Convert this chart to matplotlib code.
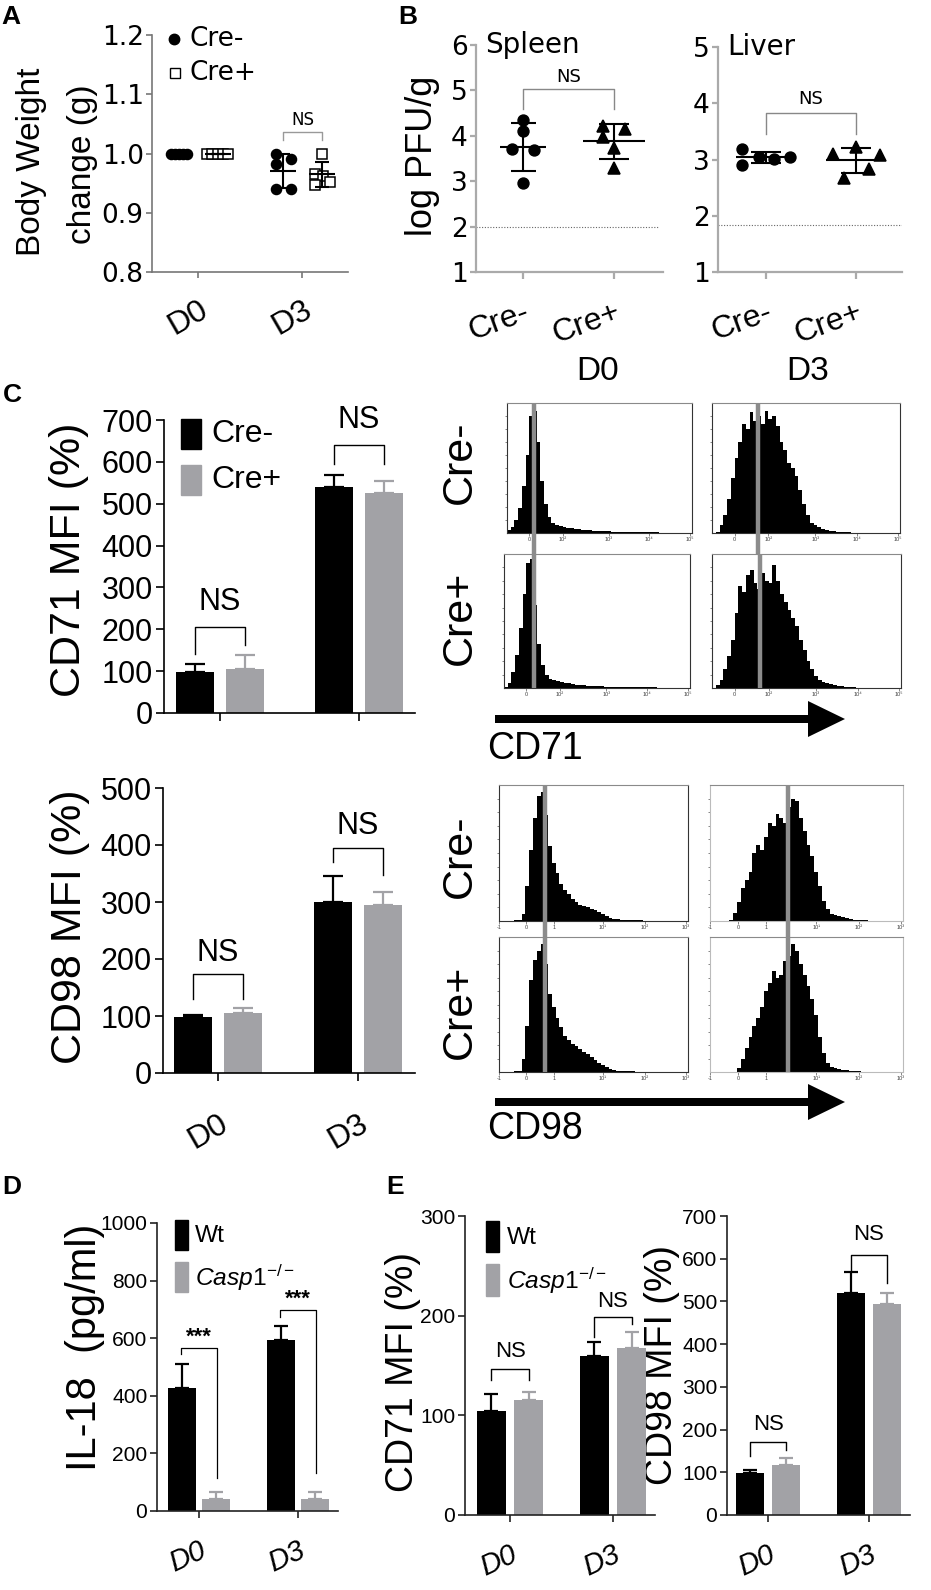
import numpy as np
import matplotlib.pyplot as plt
from matplotlib import font_manager
from matplotlib.patches import FancyArrow, Rectangle

W, H = 931, 1590

_names = {f.name for f in font_manager.fontManager.ttflist}
SANS = 'Liberation Sans'
WIDE = 'DejaVu Sans'
HAS_NARROW = 'Liberation Sans Narrow' in _names
NARROW = 'Liberation Sans Narrow' if HAS_NARROW else SANS
NK = 1.0 if HAS_NARROW else 0.84   # shrink narrow text if the narrow face is missing

plt.rcParams['font.family'] = [SANS, 'DejaVu Sans']
plt.rcParams['mathtext.fontset'] = 'custom'
plt.rcParams['mathtext.rm'] = NARROW
plt.rcParams['mathtext.it'] = NARROW + ':italic'

BLACK = '#000000'
GREY = '#a2a2a6'

# ---------------- data ----------------
# A: body weight change
a_days = ['D0', 'D3']
a_minus = [[1.0, 1.0, 1.0, 1.0, 1.0], [1.0, 0.991, 0.983, 0.94, 0.94]]
a_minus_jit = [[-0.08, -0.04, 0.0, 0.04, 0.08], [-0.07, 0.07, -0.07, -0.07, 0.07]]
a_plus = [[1.0, 1.0, 1.0, 1.0, 1.0], [1.0, 0.966, 0.962, 0.946, 0.952]]
a_plus_jit = [[-0.1, -0.05, 0.0, 0.05, 0.1], [0.0, -0.07, 0.01, -0.07, 0.08]]

# B: viral titres
b_groups = ['Cre-', 'Cre+']
spleen_minus = [4.35, 4.11, 3.72, 3.68, 2.96]
spleen_minus_jit = [0.0, 0.0, -0.12, 0.12, 0.0]
spleen_plus = [4.22, 4.16, 3.98, 3.74, 3.28]
spleen_plus_jit = [-0.12, 0.12, -0.12, 0.0, 0.0]
liver_minus = [3.18, 2.91, 3.04, 3.01, 3.04]
liver_minus_jit = [-0.27, -0.27, -0.08, 0.09, 0.27]
liver_plus = [3.10, 3.23, 3.08, 2.84, 2.68]
liver_plus_jit = [-0.26, 0.0, 0.27, 0.14, -0.13]
spleen_limit = 2.0
liver_limit = 1.84

# C: MFI bars
c_days = ['D0', 'D3']
cd71_minus = [98, 540]
cd71_minus_err = [20, 28]
cd71_plus = [104, 525]
cd71_plus_err = [34, 29]
cd98_minus = [99, 300]
cd98_minus_err = [3, 46]
cd98_plus = [105, 294]
cd98_plus_err = [9, 24]

# C: histograms, 50 bins over the plotted range (relative counts)
h71_d0_minus = [0.02, 0.05, 0.10, 0.19, 0.36, 0.60, 0.90, 0.94, 0.70, 0.40,
                0.22, 0.12, 0.08, 0.065, 0.055, 0.05, 0.042, 0.038, 0.032, 0.028,
                0.024, 0.022, 0.02, 0.018, 0.016, 0.015, 0.013, 0.012, 0.011, 0.01,
                0.009, 0.009, 0.008, 0.008, 0.007, 0.006, 0.006, 0.005, 0.005, 0.004,
                0.004, 0.003, 0.003, 0.003, 0.002, 0.002, 0.002, 0.001, 0.001, 0.0]
h71_d0_plus = [0.01, 0.04, 0.12, 0.25, 0.45, 0.70, 0.93, 0.96, 0.62, 0.33,
               0.17, 0.10, 0.07, 0.06, 0.05, 0.045, 0.04, 0.035, 0.03, 0.026,
               0.022, 0.02, 0.018, 0.016, 0.015, 0.014, 0.012, 0.011, 0.01, 0.01,
               0.009, 0.009, 0.008, 0.008, 0.007, 0.006, 0.006, 0.005, 0.005, 0.004,
               0.004, 0.003, 0.003, 0.003, 0.002, 0.002, 0.002, 0.001, 0.001, 0.0]
h71_d3_minus = [0.0, 0.01, 0.06, 0.14, 0.26, 0.42, 0.58, 0.70, 0.84, 0.80,
                0.93, 0.86, 0.90, 0.84, 0.94, 0.88, 0.90, 0.82, 0.70, 0.64,
                0.54, 0.50, 0.44, 0.33, 0.22, 0.14, 0.08, 0.06, 0.045, 0.03,
                0.02, 0.018, 0.012, 0.008, 0.006, 0.005, 0.004, 0.003, 0.003, 0.002,
                0.002, 0.001, 0.001, 0.001, 0.001, 0.0, 0.0, 0.0, 0.0, 0.0]
h71_d3_plus = [0.0, 0.02, 0.06, 0.14, 0.24, 0.36, 0.56, 0.76, 0.72, 0.84,
               0.88, 0.78, 0.74, 0.86, 0.80, 0.78, 0.92, 0.80, 0.70, 0.64,
               0.58, 0.52, 0.46, 0.36, 0.28, 0.20, 0.14, 0.09, 0.06, 0.045,
               0.04, 0.03, 0.022, 0.018, 0.012, 0.008, 0.006, 0.004, 0.003, 0.002,
               0.002, 0.001, 0.001, 0.001, 0.0, 0.0, 0.0, 0.0, 0.0, 0.0]
h98_d0_minus = [0.0, 0.0, 0.002, 0.003, 0.005, 0.01, 0.05, 0.26, 0.52, 0.76,
                0.92, 0.95, 0.78, 0.55, 0.43, 0.35, 0.27, 0.23, 0.20, 0.16,
                0.14, 0.12, 0.11, 0.10, 0.09, 0.08, 0.065, 0.05, 0.035, 0.025,
                0.018, 0.012, 0.008, 0.006, 0.006, 0.005, 0.004, 0.004, 0.003, 0.003,
                0.002, 0.002, 0.002, 0.001, 0.001, 0.001, 0.001, 0.0, 0.0, 0.0]
h98_d0_plus = [0.0, 0.0, 0.002, 0.003, 0.004, 0.008, 0.10, 0.34, 0.68, 0.83,
               0.90, 0.95, 0.80, 0.58, 0.48, 0.40, 0.33, 0.27, 0.24, 0.21,
               0.19, 0.17, 0.15, 0.13, 0.11, 0.09, 0.07, 0.055, 0.04, 0.025,
               0.015, 0.01, 0.007, 0.005, 0.004, 0.004, 0.003, 0.003, 0.002, 0.002,
               0.002, 0.001, 0.001, 0.001, 0.001, 0.0, 0.0, 0.0, 0.0, 0.0]
h98_d3_minus = [0.0, 0.0, 0.0, 0.0, 0.0, 0.01, 0.06, 0.14, 0.24, 0.30,
                0.36, 0.50, 0.56, 0.52, 0.62, 0.72, 0.70, 0.79, 0.76, 0.72,
                0.84, 0.90, 0.88, 0.76, 0.66, 0.56, 0.48, 0.36, 0.26, 0.15,
                0.09, 0.055, 0.045, 0.035, 0.03, 0.02, 0.015, 0.01, 0.008, 0.006,
                0.004, 0.003, 0.002, 0.002, 0.001, 0.001, 0.0, 0.0, 0.0, 0.0]
h98_d3_plus = [0.0, 0.0, 0.0, 0.0, 0.0, 0.0, 0.0, 0.03, 0.10, 0.18,
               0.26, 0.34, 0.40, 0.48, 0.60, 0.66, 0.75, 0.70, 0.72, 0.82,
               0.86, 0.95, 0.90, 0.80, 0.72, 0.64, 0.54, 0.42, 0.26, 0.14,
               0.07, 0.04, 0.03, 0.025, 0.018, 0.012, 0.008, 0.006, 0.004, 0.003,
               0.002, 0.002, 0.001, 0.001, 0.0, 0.0, 0.0, 0.0, 0.0, 0.0]
# MFI marker position in each box (fraction of the x range)
mfi_cd71 = {'D0': 0.145, 'D3': 0.245}
mfi_cd98 = {'D0': 0.243, 'D3': 0.405}
cd71_ticks = [0.12, 0.30, 0.55, 0.77, 0.99]
cd71_ticklabels = ['0', '10²', '10³', '10⁴', '10⁵']
cd98_ticks = [0.0, 0.145, 0.29, 0.55, 0.77, 0.99]
cd98_ticklabels = ['-1', '0', '1', '10¹', '10²', '10³']

# D: IL-18
d_days = ['D0', 'D3']
il18_wt = [428, 595]
il18_wt_err = [84, 48]
il18_ko = [42, 42]
il18_ko_err = [25, 25]

# E: MFI in Casp1 mice
e71_wt = [104, 160]
e71_wt_err = [17, 14]
e71_ko = [115, 168]
e71_ko_err = [8, 16]
e98_wt = [99, 520]
e98_wt_err = [7, 50]
e98_ko = [117, 494]
e98_ko_err = [17, 26]

# ---------------- figure ----------------
fig = plt.figure(figsize=(W / 100, H / 100), dpi=100)
ov = fig.add_axes([0, 0, 1, 1])
ov.set_xlim(0, W)
ov.set_ylim(H, 0)
ov.axis('off')


def px_axes(l, t, r, b):
    ax = fig.add_axes([l / W, 1 - b / H, (r - l) / W, (b - t) / H])
    ax.patch.set_alpha(0)
    return ax


def style(ax, color='black', lw=1.2, length=5):
    for s in ('top', 'right'):
        ax.spines[s].set_visible(False)
    for s in ('left', 'bottom'):
        ax.spines[s].set_color(color)
        ax.spines[s].set_linewidth(lw)
    ax.tick_params(color=color, width=lw, length=length, pad=2)


def dot_group(ax, x0, vals, jit, marker, mfc, ms, hw, cap, lw=1.5):
    vals = np.asarray(vals, float)
    m, sd = vals.mean(), vals.std(ddof=1)
    ax.plot(x0 + np.asarray(jit), vals, ls='none', marker=marker, ms=ms,
            mfc=mfc, mec='black', mew=1.1, zorder=3, clip_on=False)
    ax.hlines(m, x0 - hw, x0 + hw, color='black', lw=lw, zorder=4)
    ax.errorbar(x0, m, yerr=sd, fmt='none', ecolor='black', elinewidth=lw,
                capsize=cap, capthick=lw, zorder=4)


def bracket(ax, x1, x2, y, y1, y2, text, ty, color, fs, family, weight='normal', lw=1.0):
    ax.plot([x1, x1, x2, x2], [y1, y, y, y2], color=color, lw=lw, clip_on=False)
    ax.text((x1 + x2) / 2, ty, text, ha='center', va='center', fontsize=fs,
            family=family, weight=weight)


def bar_pair(ax, a, a_err, b, b_err, off, width, cap, lw=1.6):
    x = np.arange(len(a))
    for vals, err, sgn, col in ((a, a_err, -1, BLACK), (b, b_err, 1, GREY)):
        ax.bar(x + sgn * off, vals, width, color=col, zorder=2)
        ax.errorbar(x + sgn * off, vals, yerr=[np.zeros(len(x)), err], fmt='none',
                    ecolor=col, elinewidth=lw, capsize=cap, capthick=lw, zorder=1)


# ---------------- A ----------------
axA = px_axes(152, 35, 348, 272)
style(axA, '#777777', 1.2, 4)
axA.set_xlim(-0.44, 1.44)
axA.set_ylim(0.8, 1.2)
axA.set_yticks([0.8, 0.9, 1.0, 1.1, 1.2])
axA.set_yticklabels(['0.8', '0.9', '1.0', '1.1', '1.2'], family=WIDE, fontsize=19)
axA.set_xticks([0, 1])
axA.set_xticklabels(a_days, rotation=30, ha='right', rotation_mode='anchor', fontsize=23)
axA.tick_params(axis='x', pad=12, length=4)
for i in range(2):
    dot_group(axA, i - 0.18, a_minus[i], a_minus_jit[i], 'o', 'black', 7.2, 0.125, 5)
    dot_group(axA, i + 0.19, a_plus[i], a_plus_jit[i], 's', 'white', 7.2, 0.125, 5)
bracket(axA, 1 - 0.18, 1 + 0.19, 1.0355, 1.0225, 1.0225, 'NS', 1.057, '#999999', 12, WIDE)
axA.plot([0.112], [0.983], 'o', ms=7.5, color='black', transform=axA.transAxes, clip_on=False)
axA.plot([0.116], [0.84], 's', ms=7.5, mfc='white', mec='black', transform=axA.transAxes, clip_on=False)
axA.text(0.19, 0.983, 'Cre-', transform=axA.transAxes, va='center', fontsize=19, family=WIDE)
axA.text(0.19, 0.84, 'Cre+', transform=axA.transAxes, va='center', fontsize=19, family=WIDE)
ov.text(32, 162, 'Body Weight', rotation=90, ha='center', va='center', fontsize=24)
ov.text(82, 164, 'change (g)', rotation=90, ha='center', va='center', fontsize=24)

# ---------------- B ----------------
def organ_panel(box, xlim, ylim, ticks, title, minus, mj, plus, pj, limit, limit_end,
                hws, caps, br):
    ax = px_axes(*box)
    style(ax, '#aaaaaa', 1.6, 4)
    ax.set_xlim(*xlim)
    ax.set_ylim(*ylim)
    ax.set_yticks(ticks)
    ax.set_yticklabels([str(t) for t in ticks], family=WIDE, fontsize=19)
    ax.set_xticks([0, 1])
    ax.set_xticklabels(b_groups, rotation=20, ha='right', rotation_mode='anchor', fontsize=23)
    ax.tick_params(axis='x', pad=13, length=5)
    ax.axhline(limit, xmin=0, xmax=limit_end, color='#666666', lw=0.8, ls=(0, (1, 1.5)))
    dot_group(ax, 0, minus, mj, 'o', 'black', 7.8, hws[0], caps[0])
    dot_group(ax, 1, plus, pj, '^', 'black', 8.6, hws[1], caps[1])
    bracket(ax, 0, 1, br[0], br[1], br[1], 'NS', br[2], '#888888', 13, WIDE)
    ax.text(0.05, 1.0, title, transform=ax.transAxes, va='center', fontsize=20, family=WIDE)
    return ax


organ_panel((476, 45, 663, 272), (-0.516, 1.538), (1, 6), [1, 2, 3, 4, 5, 6], 'Spleen',
            spleen_minus, spleen_minus_jit, spleen_plus, spleen_plus_jit, spleen_limit, 0.98,
            (0.25, 0.34), (9, 11), (5.02, 4.6, 5.29))
organ_panel((718, 47, 902, 272), (-0.533, 1.511), (1, 5), [1, 2, 3, 4, 5], 'Liver',
            liver_minus, liver_minus_jit, liver_plus, liver_plus_jit, liver_limit, 1.0,
            (0.33, 0.33), (10.5, 10.5), (3.83, 3.46, 4.07))
ov.text(422, 156, 'log PFU/g', rotation=90, ha='center', va='center', fontsize=26)

# ---------------- C bars ----------------
axC1 = px_axes(164, 420, 415, 713)
style(axC1, 'black', 1.2, 6)
axC1.set_xlim(-0.403, 1.403)
axC1.set_ylim(0, 700)
axC1.set_yticks(range(0, 701, 100))
axC1.tick_params(axis='y', labelsize=22)
axC1.set_xticks([0, 1])
axC1.set_xticklabels([])
bar_pair(axC1, cd71_minus, cd71_minus_err, cd71_plus, cd71_plus_err, 0.18, 0.27, 7)
bracket(axC1, -0.18, 0.18, 206, 142, 162, 'NS', 265, 'black', 22, SANS)
bracket(axC1, 0.82, 1.18, 640, 596, 596, 'NS', 700, 'black', 22, SANS)
for yb, col, lab in ((0.901, BLACK, 'Cre-'), (0.744, GREY, 'Cre+')):
    axC1.add_patch(Rectangle((0.068, yb), 0.08, 0.102, color=col, transform=axC1.transAxes,
                             clip_on=False))
    axC1.text(0.19, yb + 0.051, lab, transform=axC1.transAxes, va='center', fontsize=23)
ov.text(69, 560, 'CD71 MFI (%)', rotation=90, ha='center', va='center', fontsize=31)

axC2 = px_axes(163, 788, 415, 1073)
style(axC2, 'black', 1.2, 6)
axC2.set_xlim(-0.393, 1.407)
axC2.set_ylim(0, 500)
axC2.set_yticks(range(0, 501, 100))
axC2.tick_params(axis='y', labelsize=22)
axC2.set_xticks([0, 1])
axC2.set_xticklabels(c_days, rotation=30, ha='right', rotation_mode='anchor', fontsize=23)
axC2.tick_params(axis='x', pad=20)
bar_pair(axC2, cd98_minus, cd98_minus_err, cd98_plus, cd98_plus_err, 0.18, 0.27, 7)
bracket(axC2, -0.18, 0.18, 173, 130, 130, 'NS', 211, 'black', 22, SANS)
bracket(axC2, 0.82, 1.18, 395, 371, 348, 'NS', 433, 'black', 22, SANS)
ov.text(70, 927, 'CD98 MFI (%)', rotation=90, ha='center', va='center', fontsize=31)

# ---------------- C histograms ----------------
EDGES = np.linspace(0, 1, 51)


def histo(box, heights, mfi, gap, ticks, labels, frame='#333333'):
    ax = px_axes(*box)
    ax.stairs(heights, EDGES, fill=True, color='black', lw=0)
    ax.set_xlim(0, 1)
    ax.set_ylim(0, 1)
    for s in ax.spines.values():
        s.set_color(frame)
        s.set_linewidth(0.8)
    ax.spines['top'].set_color('#8a8a8a')
    ax.set_xticks(ticks)
    ax.set_xticklabels(labels, fontsize=4, color='#444444')
    ax.set_yticks(np.arange(0.1, 1.0, 0.1))
    ax.set_yticklabels([])
    ax.tick_params(length=1.8, width=0.5, pad=1, color='#555555')
    ax.plot([mfi, mfi], [-gap, 1], color='#8c8c8c', lw=3.2, clip_on=False,
            solid_capstyle='butt', zorder=5)
    return ax


histo((507, 403, 692, 533), h71_d0_minus, mfi_cd71['D0'], 0.17, cd71_ticks, cd71_ticklabels)
histo((504, 554, 690, 688), h71_d0_plus, mfi_cd71['D0'] + 0.015, 0, cd71_ticks, cd71_ticklabels)
histo((712, 403, 900, 533), h71_d3_minus, mfi_cd71['D3'], 0.17, cd71_ticks, cd71_ticklabels)
histo((712, 554, 901, 688), h71_d3_plus, mfi_cd71['D3'] + 0.01, 0, cd71_ticks, cd71_ticklabels)
histo((499, 785, 688, 921), h98_d0_minus, mfi_cd98['D0'], 0.12, cd98_ticks, cd98_ticklabels)
histo((499, 937, 688, 1072), h98_d0_plus, mfi_cd98['D0'], 0, cd98_ticks, cd98_ticklabels)
histo((710, 785, 903, 921), h98_d3_minus, mfi_cd98['D3'], 0.12, cd98_ticks, cd98_ticklabels,
      frame='#bbbbbb')
histo((710, 937, 903, 1072), h98_d3_plus, mfi_cd98['D3'], 0, cd98_ticks, cd98_ticklabels,
      frame='#bbbbbb')

ov.text(598, 372, 'D0', ha='center', va='center', fontsize=24)
ov.text(808, 372, 'D3', ha='center', va='center', fontsize=24)
for y, lab in ((462, 'Cre-'), (618, 'Cre+'), (856, 'Cre-'), (1012, 'Cre+')):
    ov.text(460, y, lab, rotation=90, ha='center', va='center', fontsize=31)
for y, lab, ty in ((719, 'CD71', 749), (1102, 'CD98', 1129)):
    ov.add_patch(FancyArrow(495, y, 313, 0, width=8, head_width=36, head_length=37,
                            length_includes_head=False, color='black', lw=0))
    ov.text(487, ty, lab, ha='left', va='center', fontsize=27)

# ---------------- D ----------------
def casp_axes(box, xlim, ymax, step):
    ax = px_axes(*box)
    style(ax, '#222222', 1.2, 5)
    ax.set_xlim(*xlim)
    ax.set_ylim(0, ymax)
    ax.set_yticks(range(0, ymax + 1, step))
    ax.set_yticklabels([str(v) for v in range(0, ymax + 1, step)], family=NARROW,
                       fontsize=18 * NK)
    ax.set_xticks([0, 1])
    ax.set_xticklabels(d_days, rotation=25, ha='right', rotation_mode='anchor',
                       family=NARROW, style='italic', fontsize=25 * NK)
    ax.tick_params(axis='x', pad=13)
    return ax


def casp_legend(ax, x0, y_top, text_x, fs):
    # legend in axes-fraction units
    for yb, col, lab in ((y_top, BLACK, 'Wt'), (y_top - 0.145, GREY, r'$\mathit{Casp1}^{-/-}$')):
        ax.add_patch(Rectangle((x0, yb), 0.07, 0.105, color=col, transform=ax.transAxes,
                               clip_on=False))
        ax.text(text_x, yb + 0.05, lab, transform=ax.transAxes, va='center',
                family=NARROW, fontsize=fs)


axD = casp_axes((157, 1223, 338, 1511), (-0.424, 1.404), 1000, 200)
bar_pair(axD, il18_wt, il18_wt_err, il18_ko, il18_ko_err, 0.175, 0.285, 5)
bracket(axD, -0.18, 0.18, 566, 546, 113, '***', 602, 'black', 16, SANS, 'bold', 0.9)
bracket(axD, 0.82, 1.18, 699, 674, 131, '***', 734, 'black', 16, SANS, 'bold', 0.9)
casp_legend(axD, 0.099, 0.906, 0.21, 21 * NK)
ov.text(85, 1347, 'IL-18  (pg/ml)', rotation=90, ha='center', va='center', fontsize=30)

# ---------------- E ----------------
axE1 = casp_axes((465, 1216, 655, 1515), (-0.437, 1.408), 300, 100)
bar_pair(axE1, e71_wt, e71_wt_err, e71_ko, e71_ko_err, 0.18, 0.28, 5)
bracket(axE1, -0.18, 0.18, 146, 135, 135, 'NS', 164, 'black', 19 * NK, NARROW)
bracket(axE1, 0.82, 1.18, 199, 179, 192, 'NS', 214, 'black', 19 * NK, NARROW)
casp_legend(axE1, 0.111, 0.878, 0.22, 21 * NK)
ov.text(403, 1372, 'CD71 MFI (%)', rotation=90, ha='center', va='center', fontsize=27)

axE2 = casp_axes((727, 1216, 910, 1515), (-0.406, 1.406), 700, 100)
bar_pair(axE2, e98_wt, e98_wt_err, e98_ko, e98_ko_err, 0.18, 0.28, 5)
bracket(axE2, -0.18, 0.18, 170, 137, 152, 'NS', 211, 'black', 19 * NK, NARROW)
bracket(axE2, 0.82, 1.18, 608, 574, 542, 'NS', 656, 'black', 19 * NK, NARROW)
ov.text(662, 1365, 'CD98 MFI (%)', rotation=90, ha='center', va='center', fontsize=27)

# ---------------- panel letters ----------------
for x, y, lab in ((11, 17, 'A'), (408, 17, 'B'), (12, 395, 'C'), (12, 1187, 'D'),
                  (395, 1187, 'E')):
    ov.text(x, y, lab, ha='center', va='center', fontsize=19, weight='bold')

fig.savefig('out.png', dpi=100)
